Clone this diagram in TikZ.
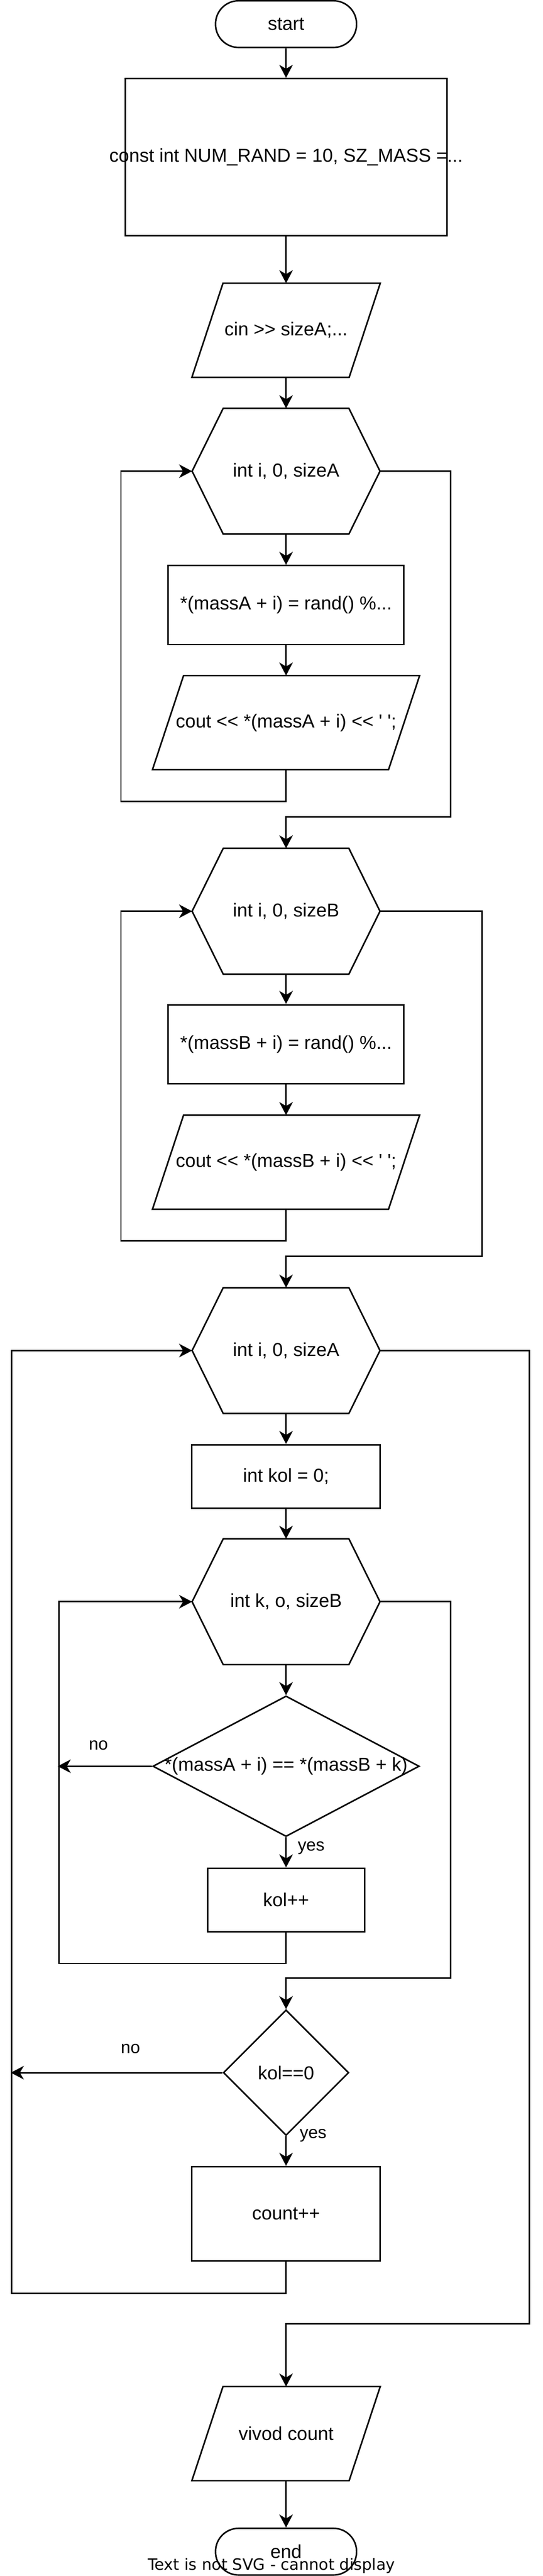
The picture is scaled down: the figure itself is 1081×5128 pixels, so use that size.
\documentclass[tikz,border=0pt]{standalone}
\usepackage{fontspec}
\newfontfamily\chartfont{Liberation Sans}
\newfontfamily\warnfont{DejaVu Sans}
\usetikzlibrary{shapes.geometric,arrows.meta}

\begin{document}
\begin{tikzpicture}[x=1pt,y=-1pt]
\tikzstyle{every node}+=[inner sep=0pt, font=\chartfont\fontsize{37.4}{44}\selectfont]
\tikzstyle{term}=[draw, line width=3pt, rounded corners=46pt, minimum width=281pt, minimum height=93pt]
\tikzstyle{proc}=[draw, line width=3pt, rectangle]
\tikzstyle{io}=[rectangle, minimum height=187pt]
\tikzstyle{cyc}=[rectangle, minimum width=374pt, minimum height=250pt]
\tikzstyle{cond}=[draw, line width=3pt, diamond]
\tikzstyle{wire}=[line width=3pt, line join=miter]
\tikzstyle{flow}=[wire, -{Stealth[length=26pt, width=27pt, inset=8pt]}]
\tikzstyle{lbl}=[font=\chartfont\fontsize{34.3}{40}\selectfont]
\useasboundingbox (0,0) rectangle (1081,5128);
\fill[white] (0,0) rectangle (1081,5128);
\node[term] (start) at (570,48) {start};
\node[proc, minimum width=641pt, minimum height=313pt] (consts) at (570,313) {\makebox[0pt]{const int NUM\_RAND = 10, SZ\_MASS =...}};
\node[io, minimum width=375pt] (inAB) at (570,657.5) {cin >> sizeA;...};
\node[cyc] (loopA) at (570,938) {int i, 0, sizeA};
\node[proc, minimum width=470pt, minimum height=157pt] (randA) at (570,1204.5) {*(massA + i) = rand() \%...};
\node[io, minimum width=532pt] (outA) at (570,1438.5) {\makebox[0pt]{cout << *(massA + i) << ' ';}};
\node[cyc] (loopB) at (570,1814) {int i, 0, sizeB};
\node[proc, minimum width=470pt, minimum height=157pt] (randB) at (570,2078.5) {*(massB + i) = rand() \%...};
\node[io, minimum width=532pt] (outB) at (570,2313.5) {\makebox[0pt]{cout << *(massB + i) << ' ';}};
\node[cyc] (loopI) at (570,2688.5) {int i, 0, sizeA};
\node[proc, minimum width=375pt, minimum height=126pt] (kolZero) at (570,2939) {int kol = 0;};
\node[cyc] (loopK) at (570,3188.5) {int k, o, sizeB};
\node[cond, minimum width=531pt, minimum height=280pt] (cmp) at (570,3516) {\makebox[0pt]{*(massA + i) == *(massB + k)}};
\node[proc, minimum width=313pt, minimum height=126pt] (kolInc) at (570,3782) {kol++};
\node[cond, minimum width=250pt, minimum height=250pt] (check) at (570,4126) {\makebox[0pt]{kol==0}};
\node[proc, minimum width=375pt, minimum height=188pt] (countInc) at (570,4407) {count++};
\node[io, minimum width=375pt] (outCount) at (570,4844.5) {vivod count};
\node[term] (finish) at (570,5079.5) {end};
\foreach \h in {loopA,loopB,loopI,loopK}
  \draw[wire] (\h.west) -- ([xshift=62pt]\h.north west) -- ([xshift=-62pt]\h.north east) -- (\h.east) -- ([xshift=-62pt]\h.south east) -- ([xshift=62pt]\h.south west) -- cycle;
\foreach \p in {inAB,outA,outB,outCount}
  \draw[wire] (\p.south west) -- ([xshift=-62pt]\p.south east) -- (\p.north east) -- ([xshift=62pt]\p.north west) -- cycle;
\draw[flow] (start.south) -- (consts.north);
\draw[flow] (consts.south) -- (inAB.north);
\draw[flow] (inAB.south) -- (loopA.north);
\draw[flow] (loopA.south) -- (randA.north);
\draw[flow] (randA.south) -- (outA.north);
\draw[flow] (outA.south) |- ++(-329,63) |- (loopA.west);
\draw[flow] (loopA.east) -| ++(141,688) -| (loopB.north);
\draw[flow] (loopB.south) -- (randB.north);
\draw[flow] (randB.south) -- (outB.north);
\draw[flow] (outB.south) |- ++(-329,63) |- (loopB.west);
\draw[flow] (loopB.east) -| ++(203,687) -| (loopI.north);
\draw[flow] (loopI.south) -- (kolZero.north);
\draw[flow] (kolZero.south) -- (loopK.north);
\draw[flow] (loopK.south) -- (cmp.north);
\draw[flow] (cmp.west) -- ++(-188,0);
\draw[flow] (cmp.south) -- (kolInc.north);
\draw[flow] (kolInc.south) |- ++(-453,62) |- (loopK.west);
\draw[flow] (loopK.east) -| ++(141,749.5) -| (check.north);
\draw[flow] (check.west) -- ++(-422,0);
\draw[flow] (check.south) -- (countInc.north);
\draw[flow] (countInc.south) |- ++(-547,63) |- (loopI.west);
\draw[flow] (loopI.east) -| ++(298,1937.5) -| (outCount.north);
\draw[flow] (outCount.south) -- (finish.north);
\node[lbl] (noCmp) at (196,3474) {no};
\node[lbl] (yesCmp) at (620,3679) {yes};
\node[lbl] (noCheck) at (260,4078) {no};
\node[lbl] (yesCheck) at (624,4251) {yes};
\node[font=\warnfont\fontsize{31.2}{36}\selectfont, anchor=base] (warn) at (541,5116) {Text is not SVG - cannot display};
\end{tikzpicture}
\end{document}
